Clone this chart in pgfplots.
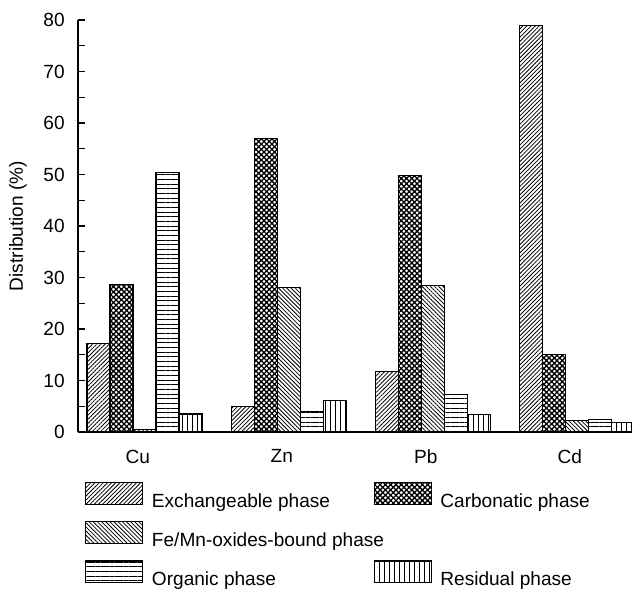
\documentclass[border=0pt]{standalone}
\usepackage{pgfplots}
\pgfplotsset{compat=1.18}
\usepackage{pgfplotstable}
\usetikzlibrary{patterns.meta}
\usepackage{fontspec}
\setmainfont{Liberation Sans}

\pgfplotstableread{
x exch carb femn org res
0 17.2 28.7 0.5 50.3 3.5
1 5.0 56.9 28.0 4.0 6.2
2 11.8 49.8 28.4 7.2 3.4
3 79.0 15.0 2.2 2.4 1.8
}\datatable

\newcommand{\fs}{\fontsize{14.3}{17}\selectfont}

\begin{document}
\begin{tikzpicture}
\pgfplotsset{
  patchleg/.style={legend image code/.code={\draw[##1] (0pt,-2pt) rectangle (42.75pt,14pt);}},
}
\begin{axis}[
  scale only axis, width=415.5pt, height=309pt,
  xmin=-0.462, xmax=3.385, ymin=0, ymax=80,
  axis lines*=left,
  axis line style={line width=0.8pt},
  ybar=0pt, bar width=17.25pt,
  xtick={0,1,2,3}, xticklabels={Cu,Zn,Pb,Cd},
  ytick={0,10,...,80}, minor y tick num=1,
  tick align=inside,
  major tick length=5.5pt, minor tick length=5.5pt,
  x tick style={draw=none},
  y tick style={line width=0.8pt, black},
  tick label style={font=\fs},
  /pgf/number format/assume math mode=true,
  yticklabel style={xshift=-6.5pt},
  xticklabel style={yshift=-9.75pt, xshift=-5pt},
  ylabel={Distribution (\%)},
  ylabel style={font=\fs, at={(axis description cs:-0.1083,0.5)}, anchor=center},
  legend columns=2,
  legend cell align=left,
  legend style={draw=none, fill=none, font=\fs,
    at={(axis description cs:0,0)}, anchor=north west,
    xshift=5.25pt, yshift=-37.5pt, inner sep=0pt,
    row sep=7pt, column sep=4.5pt,
    /tikz/every even column/.append style={column sep=14.25pt}},
]
\addplot[draw=black, line width=0.8pt, patchleg,
  pattern={Lines[angle=45,distance=2.2pt,line width=0.6pt]}]
  table[x=x,y=exch]{\datatable};
\addlegendentry{\makebox[150pt][l]{Exchangeable phase}}
\addplot[draw=black, line width=0.8pt, patchleg,
  pattern={Hatch[angle=45,distance=2.8pt,line width=1pt]}]
  table[x=x,y=carb]{\datatable};
\addlegendentry{Carbonatic phase}
\addplot[draw=black, line width=0.8pt, patchleg,
  pattern={Lines[angle=-45,distance=2.2pt,line width=0.6pt]}]
  table[x=x,y=femn]{\datatable};
\addlegendentry{\makebox[150pt][l]{Fe/Mn-oxides-bound phase}}
\addlegendimage{empty legend}
\addlegendentry{}
\addplot[draw=black, line width=0.8pt, patchleg,
  pattern={Lines[angle=0,distance=3.5pt,line width=0.7pt]}]
  table[x=x,y=org]{\datatable};
\addlegendentry{\makebox[150pt][l]{Organic phase}}
\addplot[draw=black, line width=0.8pt, patchleg,
  pattern={Lines[angle=90,distance=3.7pt,line width=0.7pt]}]
  table[x=x,y=res]{\datatable};
\addlegendentry{Residual phase}
\end{axis}
\path (-58.5pt,-102.75pt) rectangle (419.25pt,324pt);
\end{tikzpicture}
\end{document}
